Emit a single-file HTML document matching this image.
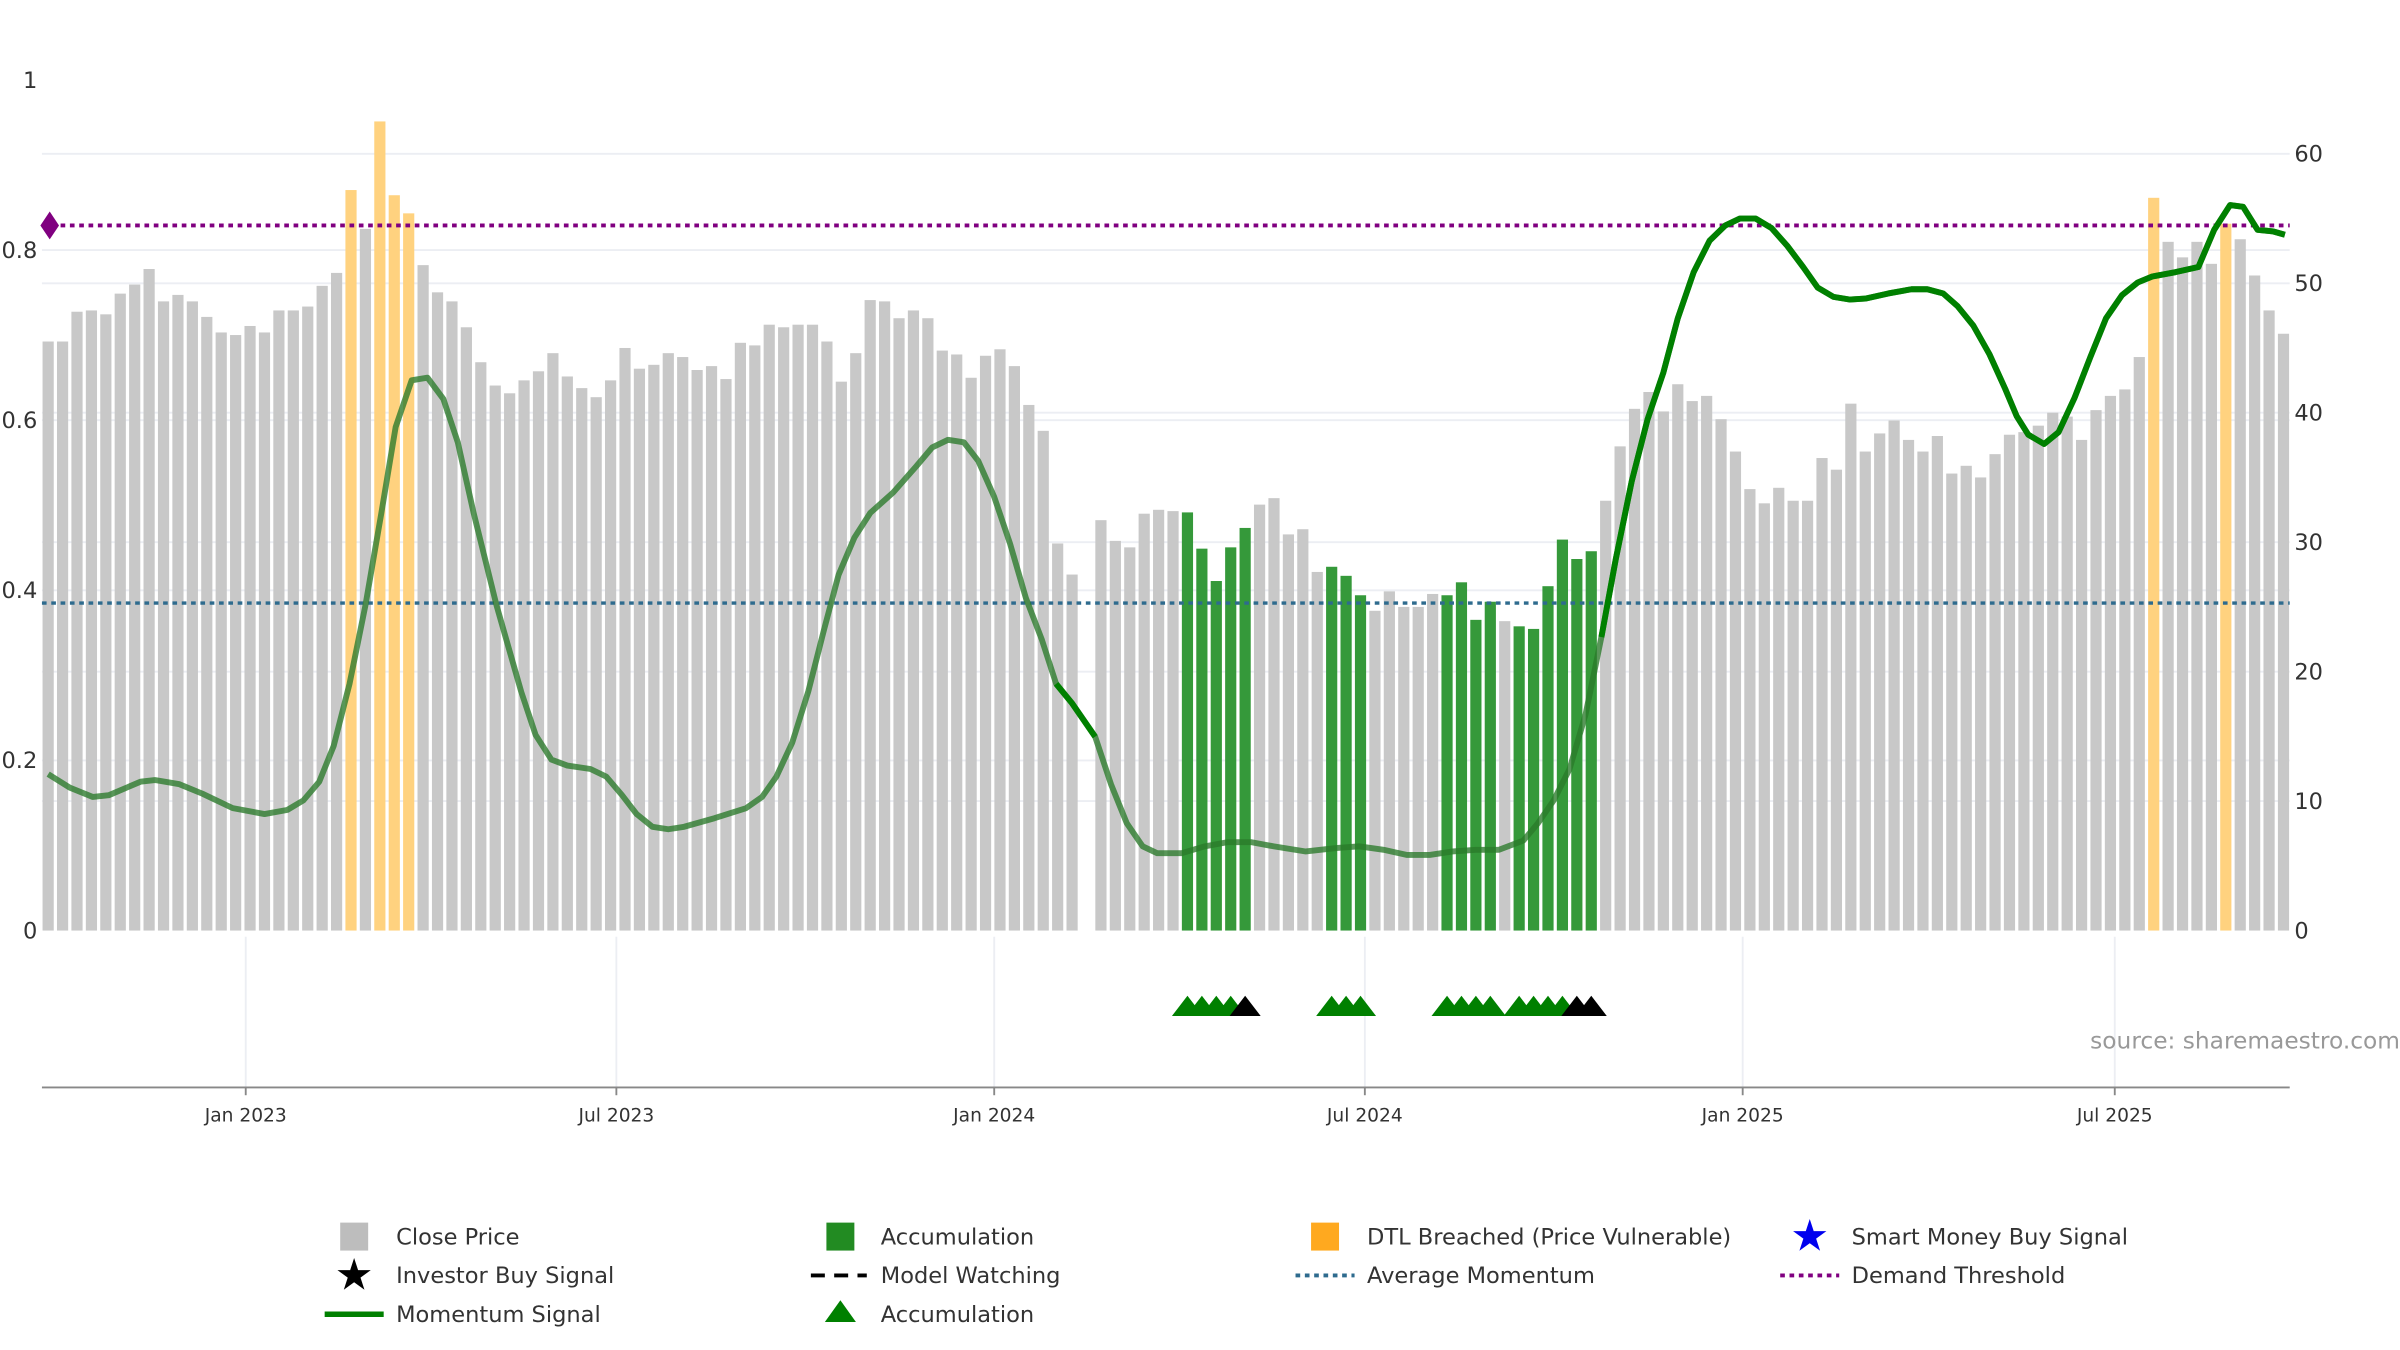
<!DOCTYPE html>
<html><head><meta charset="utf-8"><style>
html,body{margin:0;padding:0;background:#fff;}
svg{display:block;font-family:"DejaVu Sans","Liberation Sans",sans-serif;}
</style></head><body>
<svg id="chart" width="2400" height="1350" viewBox="0 0 1545 869" preserveAspectRatio="none" xmlns="http://www.w3.org/2000/svg">
<g id="grid"></g>
<g id="bars"></g>
<g id="lines"></g>
<g id="axes"></g>
<g id="marks"></g>
<text x="1545" y="675" text-anchor="end" font-size="15" fill="#999">source: sharemaestro.com</text>
<g id="legend" font-size="14.5" fill="#333">
  <g><rect x="219" y="787" width="18" height="18" fill="#bdbdbd"/><text x="255" y="801">Close Price</text></g>
  <g><rect x="532" y="787" width="18" height="18" fill="#228b22"/><text x="567" y="801">Accumulation</text></g>
  <g><rect x="844" y="787" width="18" height="18" fill="#ffa91f"/><text x="880" y="801">DTL Breached (Price Vulnerable)</text></g>
  <g><text x="1165" y="805" font-size="28" fill="#0000ee" text-anchor="middle">★</text><text x="1192" y="801">Smart Money Buy Signal</text></g>
  <g><text x="228" y="830" font-size="28" fill="#000" text-anchor="middle">★</text><text x="255" y="826">Investor Buy Signal</text></g>
  <g><line x1="522" y1="821" x2="558" y2="821" stroke="#000" stroke-width="2.5" stroke-dasharray="9,6"/><text x="567" y="826">Model Watching</text></g>
  <g><line x1="834" y1="821" x2="872" y2="821" stroke="#2e6b8e" stroke-width="2.5" stroke-dasharray="3,3"/><text x="880" y="826">Average Momentum</text></g>
  <g><line x1="1146" y1="821" x2="1184" y2="821" stroke="#800080" stroke-width="2.5" stroke-dasharray="3,3"/><text x="1192" y="826">Demand Threshold</text></g>
  <g><line x1="209" y1="846" x2="247" y2="846" stroke="#008000" stroke-width="3.5"/><text x="255" y="851">Momentum Signal</text></g>
  <g><polygon points="531,851 541,837 551,851" fill="#008000"/><text x="567" y="851">Accumulation</text></g>
</g>
</svg>
<script>
const prices=[45.5,45.5,47.8,47.9,47.6,49.2,49.9,51.1,48.6,49.1,48.6,47.4,46.2,46.0,46.7,46.2,47.9,47.9,48.2,49.8,50.8,
57.2,54.2,62.5,56.8,55.4,51.4,49.3,48.6,46.6,
43.9,42.1,41.5,42.5,43.2,44.6,42.8,41.9,41.2,42.5,
45.0,43.4,43.7,44.6,44.3,43.3,43.6,42.6,45.4,45.2,
46.8,46.6,46.8,46.8,45.5,42.4,44.6,48.7,48.6,47.3,
47.9,47.3,44.8,44.5,42.7,44.4,44.9,43.6,40.6,38.6,
29.9,27.5,null,31.7,30.1,29.6,32.2,32.5,32.4,32.3,
29.5,27.0,29.6,31.1,32.9,33.4,30.6,31.0,27.7,28.1,
27.4,25.9,24.7,26.2,25.0,25.0,26.0,25.9,26.9,24.0,
25.4,23.9,23.5,23.3,26.6,30.2,28.7,29.3,33.2,37.4,
40.3,41.6,40.1,42.2,40.9,41.3,39.5,37.0,34.1,33.0,
34.2,33.2,33.2,36.5,35.6,40.7,37.0,38.4,39.4,37.9,
37.0,38.2,35.3,35.9,35.0,36.8,38.3,38.5,39.0,40.0,
39.7,37.9,40.2,41.3,41.8,44.3,
56.6,53.2,52.0,53.2,51.5,54.6,53.4,50.6,47.9,46.1];
const dtlWeeks=[21,23,24,25,146,151];
const accWeeks=[79,80,81,82,83,89,90,91,97,98,99,100,102,103,104,105,106,107];
const momWeeks=[0,1.5,3.1,4.2,6.4,7.4,9.1,10.7,12.8,15,16.6,17.7,18.8,19.8,20.9,22,23.1,24.1,25.2,26.3,27.4,28.4,29.5,31.1,32.8,33.8,34.9,36,37.6,38.7,39.8,40.8,41.9,43,44.1,46.2,48.4,49.5,50.5,51.6,52.7,53.8,54.8,55.9,57,58.6,60.2,61.3,62.4,63.5,64.5,65.6,66.7,67.8,68.9,69.9,71,72.6,73.7,74.8,75.9,76.9,78.6,80.2,81.8,83.4,85,87.2,89.3,90.9,92.6,94.2,95.8,97.4,99,100.6,102.3,103.3,104.4,105.5,106.6,107.7,108.7,109.8,110.9,112,113,114.1,115.2,116.3,117.3,118.4,119.5,120.6,121.7,122.7,123.8,124.9,126,127.6,129.2,130.3,131.4,132.4,133.5,134.6,135.7,136.5,137.3,138.4,139.4,140.5,141.6,142.7,143.8,144.9,145.9,147.5,149.1,150.2,151.3,152.2,153.2,154.3,155.1];
const momVals=[0.184,0.168,0.157,0.159,0.175,0.177,0.172,0.161,0.144,0.137,0.142,0.153,0.175,0.217,0.29,0.382,0.491,0.592,0.647,0.65,0.625,0.574,0.491,0.382,0.281,0.23,0.201,0.194,0.19,0.181,0.159,0.137,0.122,0.119,0.122,0.132,0.144,0.157,0.181,0.221,0.281,0.354,0.418,0.462,0.491,0.515,0.546,0.568,0.577,0.574,0.552,0.51,0.455,0.391,0.342,0.29,0.267,0.228,0.172,0.126,0.099,0.091,0.091,0.099,0.104,0.104,0.099,0.093,0.097,0.099,0.095,0.089,0.089,0.093,0.095,0.095,0.106,0.126,0.153,0.19,0.254,0.345,0.437,0.528,0.601,0.656,0.72,0.774,0.811,0.829,0.837,0.837,0.826,0.805,0.78,0.756,0.745,0.742,0.743,0.749,0.754,0.754,0.749,0.734,0.711,0.678,0.637,0.605,0.583,0.572,0.586,0.626,0.674,0.72,0.747,0.762,0.769,0.774,0.78,0.824,0.853,0.851,0.824,0.822,0.818];
const avgMomentum=0.385;
const demandThreshold=0.829;
const triWeeks=[79,80,81,82,83,89,90,91,97,98,99,100,102,103,104,105,106,107];
const triTypes=["a","a","a","a","w","a","a","a","a","a","a","a","a","a","a","a","w","w"];
const leftTicks=[0,0.2,0.4,0.6,0.8,1];
const leftTickLabels=["0","0.2","0.4","0.6","0.8","1"];
const rightTicks=[0,10,20,30,40,50,60];
const dateTickWeeks=[13.7,39.4,65.6,91.3,117.5,143.3];
const dateTickLabels=["Jan 2023","Jul 2023","Jan 2024","Jul 2024","Jan 2025","Jul 2025"];

const NS="http://www.w3.org/2000/svg";
const X0=31,X1=1470,N=prices.length;
const xw=w=>X0+w*(X1-X0)/(N-1);
const yR=v=>599-v*(500/60);
const yL=v=>599-v*547.5;
function mk(tag,attrs,parent){const e=document.createElementNS(NS,tag);for(const k in attrs)e.setAttribute(k,attrs[k]);document.getElementById(parent).appendChild(e);return e;}

rightTicks.forEach(t=>{if(t===0)return;const l=mk('line',{x1:27,x2:1474,y1:yR(t),y2:yR(t),stroke:'#eceef3','stroke-width':1.2},'grid');

});
leftTicks.forEach(t=>{if(t===0||t===1)return;const l=mk('line',{x1:27,x2:1474,y1:yL(t),y2:yL(t),stroke:'#eceef3','stroke-width':1.2},'grid');

});
dateTickWeeks.forEach(w=>{const l=mk('line',{x1:xw(w),x2:xw(w),y1:603,y2:700,stroke:'#eceef3','stroke-width':1.2},'grid');

});

prices.forEach((p,i)=>{if(p===null)return;
let fill='#c8c8c8',name='bar-close-price';
if(dtlWeeks.includes(i)){fill='#ffd27f';name='bar-dtl-breached';}
else if(accWeeks.includes(i)){fill='#35993a';name='bar-accumulation';}
const r=mk('rect',{x:xw(i)-3.6,y:yR(p),width:7.2,height:599-yR(p),fill:fill},'bars');

});

const dl=mk('line',{x1:27,x2:1474,y1:yL(demandThreshold),y2:yL(demandThreshold),stroke:'#800080','stroke-width':2.5,'stroke-dasharray':'3,3'},'lines');


const dd=mk('polygon',{points:`26,${yL(demandThreshold)} 32,${yL(demandThreshold)-9} 38,${yL(demandThreshold)} 32,${yL(demandThreshold)+9}`,fill:'#800080'},'lines');


const al=mk('line',{x1:27,x2:1474,y1:yL(avgMomentum),y2:yL(avgMomentum),stroke:'#2e6b8e','stroke-width':2.2,'stroke-dasharray':'3,3'},'lines');



const pts=momWeeks.map((w,i)=>[xw(w),yL(momVals[i])]);
const d=pts.map((p,i)=>(i?'L':'M')+p[0].toFixed(1)+','+p[1].toFixed(1)).join(' ');
const ml=mk('path',{d:d,fill:'none',stroke:'#2a7a2a','stroke-width':3.8,'stroke-opacity':0.78,'stroke-linejoin':'round'},'lines');


function seg(a,b){return pts.slice(a,b+1).map((p,i)=>(i?'L':'M')+p[0].toFixed(1)+','+p[1].toFixed(1)).join(' ');}
const sIdx=momWeeks.findIndex(w=>w>=107.7);
const ms=mk('path',{d:seg(sIdx,pts.length-1),fill:'none',stroke:'#008000','stroke-width':3.8,'stroke-linejoin':'round'},'lines');


const a1=momWeeks.indexOf(69.9),a2=momWeeks.indexOf(72.6);
const ms2=mk('path',{d:seg(a1,a2),fill:'none',stroke:'#008000','stroke-width':3.8},'lines');



triWeeks.forEach((w,i)=>{const x=xw(w),y=648;
const t=mk('polygon',{points:`${x-10},${y+6} ${x},${y-7} ${x+10},${y+6}`,fill:triTypes[i]==='a'?'#008000':'#000'},'marks');

});

const xa=mk('line',{x1:27,x2:1474,y1:700,y2:700,stroke:'#888','stroke-width':1.2},'axes');


dateTickWeeks.forEach((w,i)=>{
const tk=mk('line',{x1:xw(w),x2:xw(w),y1:700,y2:705,stroke:'#888','stroke-width':1.2},'axes');


const tx=mk('text',{x:xw(w),y:722,'text-anchor':'middle','font-size':12,fill:'#333'},'axes');
tx.textContent=dateTickLabels[i];

});
leftTicks.forEach((t,i)=>{const tx=mk('text',{x:24,y:yL(t)+5,'text-anchor':'end','font-size':14.5,fill:'#333'},'axes');
tx.textContent=leftTickLabels[i];

});
rightTicks.forEach(t=>{const tx=mk('text',{x:1477,y:yR(t)+5,'font-size':14.5,fill:'#333'},'axes');
tx.textContent=String(t);

});
</script>
</body></html>
